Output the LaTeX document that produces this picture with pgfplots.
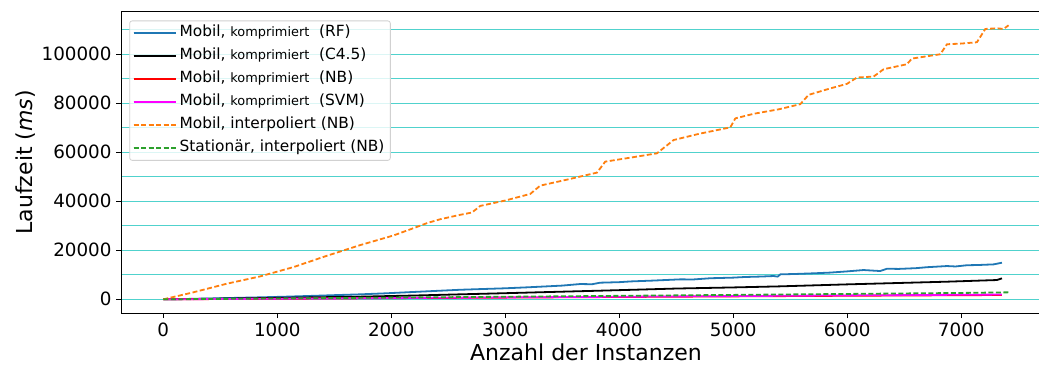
\documentclass[border=0pt]{standalone}
\usepackage{fontspec}
\setmainfont{DejaVu Sans}
\usepackage{pgfplots}
\pgfplotsset{compat=1.18}

\definecolor{mplblue}{HTML}{1F77B4}
\definecolor{mplorange}{RGB}{255,127,14}
\definecolor{mplgreen}{HTML}{2CA02C}
\definecolor{mplmagenta}{RGB}{255,0,255}
\definecolor{mplred}{RGB}{255,0,0}
\definecolor{gridturq}{RGB}{80,210,205}

\newcommand{\kompr}{{\fontsize{12.9bp}{13bp}\selectfont komprimiert}}

\pgfplotsset{
  rfstyle/.style={color=mplblue, solid},
  cstyle/.style={color=black, solid},
  nbstyle/.style={color=mplred, solid},
  svmstyle/.style={color=mplmagenta, solid},
  mobstyle/.style={color=mplorange, dash pattern=on 5bp off 2.5bp},
  statstyle/.style={color=mplgreen, dash pattern=on 5bp off 2.5bp},
}

\begin{document}
\begin{tikzpicture}[x=1bp,y=1bp]
\begin{axis}[
  at={(121bp,52bp)}, anchor=south west,
  scale only axis, width=918bp, height=301.3bp,
  xmin=-371, xmax=7682, ymin=-5578, ymax=117300,
  axis x line*=box, axis y line*=left,
  axis line style={black, line width=1bp},
  xtick={0,1000,...,7000},
  ytick={0,20000,...,100000},
  minor ytick={10000,30000,...,110000},
  xtick pos=bottom, ytick pos=left,
  tick align=outside,
  major tick length=5bp, minor tick length=0bp,
  tick style={black, line width=1bp},
  ymajorgrids, yminorgrids,
  major grid style={gridturq, line width=1.1bp},
  minor grid style={gridturq, line width=1.1bp},
  scaled ticks=false,
  /pgf/number format/.cd, fixed, precision=0, 1000 sep={}, assume math mode=true,
  /pgfplots/.cd,
  ticklabel style={font=\fontsize{18.3bp}{18.3bp}\selectfont},
  xticklabel style={yshift=-1bp},
  yticklabel style={xshift=-1bp},
  label style={font=\fontsize{22bp}{22bp}\selectfont},
  xlabel={Anzahl der Instanzen},
  ylabel={Laufzeit (\textit{ms})},
  xlabel style={at={(axis description cs:0.5065,0)}, anchor=north, yshift=-27bp},
  ylabel style={at={(axis description cs:0,0.5)}, anchor=south, yshift=82bp},
  legend cell align=left,
  legend style={
    at={(axis description cs:0.009,0.9725)}, anchor=north west, yshift=-0.5bp,
    draw=black!18, rounded corners=2.5bp, line width=0.8bp,
    fill=white, fill opacity=0.8, text opacity=1,
    font=\fontsize{15.4bp}{16bp}\selectfont,
    inner xsep=3bp, inner ysep=2.5bp, row sep=3.5bp,
    nodes={inner xsep=3bp, inner ysep=2bp, text height=11.5bp, text depth=4bp},
  },
  legend image code/.code={%
    \draw[line width=2bp, draw opacity=1, #1] (0bp,0bp) -- (33bp,0bp);
    \path (0bp,0bp) -- (42bp,0bp);},
  every axis plot/.append style={line width=1.8bp, line join=round},
]

% legend
\addlegendimage{rfstyle}
\addlegendentry{Mobil, \kompr\ \ (RF)}
\addlegendimage{cstyle}
\addlegendentry{Mobil, \kompr\ \ (C4.5)}
\addlegendimage{nbstyle}
\addlegendentry{Mobil, \kompr\ \ (NB)}
\addlegendimage{svmstyle}
\addlegendentry{Mobil, \kompr\ \ (SVM)}
\addlegendimage{mobstyle}
\addlegendentry{Mobil, interpoliert (NB)}
\addlegendimage{statstyle}
\addlegendentry{Stationär, interpoliert (NB)}

% Random Forest
\addplot[rfstyle, forget plot] coordinates {
 (0,0) (200,150) (400,340) (600,560) (851,814) (1050,1050) (1300,1400) (1500,1700)
 (1728,2035) (1950,2450) (2150,2900) (2400,3450) (2605,3900) (2800,4200) (3000,4500)
 (3190,4885) (3350,5250) (3500,5600) (3658,6242) (3760,6150) (3833,6785) (4000,7000)
 (4100,7300) (4300,7650) (4535,8142) (4650,8100) (4800,8600) (5000,8850) (5100,9100)
 (5250,9300) (5354,9500) (5390,9250) (5412,10178) (5550,10350) (5700,10600) (5850,10900)
 (6000,11400) (6143,11942) (6289,11535) (6348,12484) (6450,12400) (6600,12700) (6700,13100)
 (6874,13570) (6950,13400) (7050,13900) (7150,14000) (7283,14248) (7357,14927)
};

% C4.5
\addplot[cstyle, forget plot] coordinates {
 (0,0) (500,280) (1000,600) (1728,1085) (2200,1550) (2605,2035) (3000,2500) (3400,3000)
 (3833,3528) (4200,4000) (4500,4400) (5000,4850) (5412,5292) (6000,6100) (6400,6600)
 (6874,7192) (7313,7870) (7357,8549)
};

% Naive Bayes
\addplot[nbstyle, forget plot] coordinates {
 (0,0) (1000,230) (2000,470) (3000,700) (4000,950) (5000,1200) (6000,1450) (7357,1764)
};

% SVM
\addplot[svmstyle, forget plot] coordinates {
 (0,0) (1000,260) (2000,520) (3000,780) (4000,1050) (5000,1320) (6000,1600) (7357,1950)
};

% interpolated, mobile
\addplot[mobstyle, forget plot] coordinates {
 (0,0) (250,2700) (558,6378) (851,9363) (1143,13163) (1436,17777) (1728,22119)
 (2020,26054) (2196,29040) (2313,31075) (2430,32672) (2605,34468) (2707,35386)
 (2781,38100) (3000,40300) (3219,42985) (3307,46378) (3550,48900) (3804,51670)
 (3877,56148) (4100,57800) (4330,59541) (4477,64968) (4700,67500) (4974,70125)
 (5018,73790) (5178,75658) (5400,77500) (5588,79593) (5661,83393) (5850,86000)
 (5997,87871) (6085,90449) (6231,90856) (6319,93841) (6523,95877) (6567,98184)
 (6816,99948) (6874,104019) (7000,104300) (7137,104833) (7211,110261) (7313,110533)
 (7371,110261) (7415,111754)
};

% interpolated, stationary
\addplot[statstyle, forget plot] coordinates {
 (0,0) (1000,340) (2000,700) (3000,1050) (4000,1420) (5000,1800) (6000,2200) (7000,2600) (7415,2850)
};

\end{axis}
\pgfresetboundingbox
\path[use as bounding box] (0,0) rectangle (1039,365);
\end{tikzpicture}
\end{document}
